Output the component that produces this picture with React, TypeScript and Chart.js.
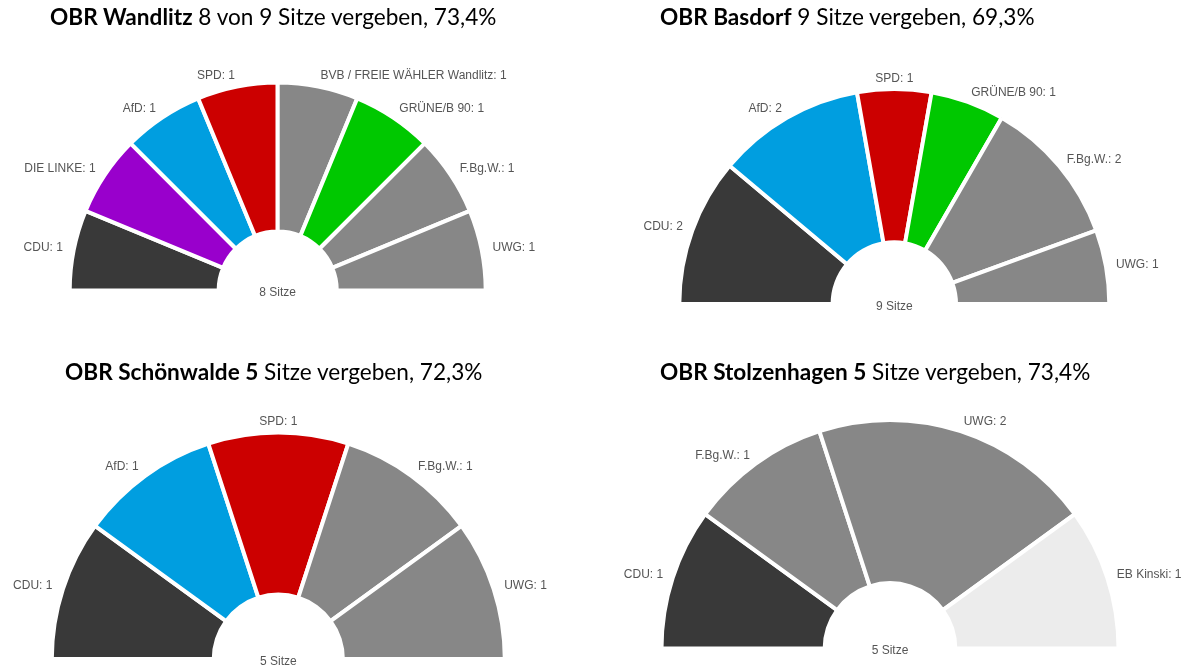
import React, { useEffect, useRef } from "react";
import { Chart, registerables } from "chart.js";

Chart.register(...registerables);

// ---------- DATA ----------
const wandlitzParties = ["CDU", "DIE LINKE", "AfD", "SPD", "BVB / FREIE WÄHLER Wandlitz", "GRÜNE/B 90", "F.Bg.W.", "UWG"];
const wandlitzSeats = [1, 1, 1, 1, 1, 1, 1, 1];
const wandlitzColors = ["#393939", "#9900cc", "#009ee0", "#cc0000", "#878787", "#00c800", "#878787", "#878787"];
const wandlitzTitleBold = "OBR Wandlitz";
const wandlitzTitleRest = " 8 von 9 Sitze vergeben, 73,4%";

const basdorfParties = ["CDU", "AfD", "SPD", "GRÜNE/B 90", "F.Bg.W.", "UWG"];
const basdorfSeats = [2, 2, 1, 1, 2, 1];
const basdorfColors = ["#393939", "#009ee0", "#cc0000", "#00c800", "#878787", "#878787"];
const basdorfTitleBold = "OBR Basdorf";
const basdorfTitleRest = " 9 Sitze vergeben, 69,3%";

const schoenwaldeParties = ["CDU", "AfD", "SPD", "F.Bg.W.", "UWG"];
const schoenwaldeSeats = [1, 1, 1, 1, 1];
const schoenwaldeColors = ["#393939", "#009ee0", "#cc0000", "#878787", "#878787"];
const schoenwaldeTitleBold = "OBR Schönwalde 5";
const schoenwaldeTitleRest = " Sitze vergeben, 72,3%";

const stolzenhagenParties = ["CDU", "F.Bg.W.", "UWG", "EB Kinski"];
const stolzenhagenSeats = [1, 1, 2, 1];
const stolzenhagenColors = ["#393939", "#878787", "#878787", "#ececec"];
const stolzenhagenTitleBold = "OBR Stolzenhagen 5";
const stolzenhagenTitleRest = " Sitze vergeben, 73,4%";

const seatsWord = "Sitze";

// ---------- LAYOUT ----------
type Spec = {
  parties: string[];
  seats: number[];
  colors: string[];
  titleBold: string;
  titleRest: string;
  left: number;
  top: number;
  width: number;
  height: number;
  cx: number;
  cy: number;
  radius: number;
  cutout: string;
  labelGap: number;
  titleLeft: number;
  titleTop: number;
};

const specs: Spec[] = [
  {
    parties: wandlitzParties, seats: wandlitzSeats, colors: wandlitzColors,
    titleBold: wandlitzTitleBold, titleRest: wandlitzTitleRest,
    left: 0, top: 0, width: 600, height: 335,
    cx: 277.7, cy: 290.5, radius: 208, cutout: "28.4%", labelGap: 11,
    titleLeft: 50, titleTop: 5,
  },
  {
    parties: basdorfParties, seats: basdorfSeats, colors: basdorfColors,
    titleBold: basdorfTitleBold, titleRest: basdorfTitleRest,
    left: 600, top: 0, width: 601, height: 335,
    cx: 294.3, cy: 304, radius: 215, cutout: "28.7%", labelGap: 10,
    titleLeft: 660, titleTop: 5,
  },
  {
    parties: schoenwaldeParties, seats: schoenwaldeSeats, colors: schoenwaldeColors,
    titleBold: schoenwaldeTitleBold, titleRest: schoenwaldeTitleRest,
    left: 0, top: 335, width: 600, height: 335,
    cx: 278.3, cy: 324, radius: 226.5, cutout: "28.5%", labelGap: 11,
    titleLeft: 65, titleTop: 360,
  },
  {
    parties: stolzenhagenParties, seats: stolzenhagenSeats, colors: stolzenhagenColors,
    titleBold: stolzenhagenTitleBold, titleRest: stolzenhagenTitleRest,
    left: 600, top: 335, width: 601, height: 335,
    cx: 290, cy: 313.5, radius: 228.5, cutout: "28.6%", labelGap: 10,
    titleLeft: 660, titleTop: 360,
  },
];

const labelFont = "12px 'Liberation Sans', Arial, sans-serif";
const labelColor = "#555555";

const seatLabelsPlugin = {
  id: "seatLabels",
  afterDatasetsDraw(chart: any, _args: any, opts: any) {
    const meta = chart.getDatasetMeta(0);
    const labels = chart.data.labels as string[];
    const values = chart.data.datasets[0].data as number[];
    const ctx = chart.ctx as CanvasRenderingContext2D;
    ctx.save();
    ctx.font = labelFont;
    ctx.fillStyle = labelColor;
    ctx.textBaseline = "middle";
    let cx = 0;
    let cy = 0;
    let total = 0;
    meta.data.forEach((arc: any, i: number) => {
      const p = arc.getProps(["x", "y", "startAngle", "endAngle", "outerRadius"], true);
      cx = p.x;
      cy = p.y;
      total += values[i];
      const mid = (p.startAngle + p.endAngle) / 2;
      const r = p.outerRadius + (opts.gap ?? 10);
      const px = p.x + Math.cos(mid) * r;
      const py = p.y + Math.sin(mid) * r;
      const c = Math.cos(mid);
      ctx.textAlign = Math.abs(c) < 0.02 ? "center" : c < 0 ? "right" : "left";
      ctx.fillText(`${labels[i]}: ${values[i]}`, px, py);
    });
    ctx.textAlign = "center";
    ctx.fillText(`${total} ${seatsWord}`, cx, cy + 2.5);
    ctx.restore();
  },
};

function Parliament({ spec }: { spec: Spec }) {
  const ref = useRef<HTMLCanvasElement | null>(null);
  useEffect(() => {
    if (!ref.current) return;
    const s = spec;
    const chart = new Chart(ref.current, {
      type: "doughnut",
      data: {
        labels: s.parties,
        datasets: [
          {
            data: s.seats,
            backgroundColor: s.colors,
            borderColor: "#ffffff",
            borderWidth: 4,
            hoverOffset: 0,
          },
        ],
      },
      options: {
        responsive: false,
        animation: false,
        rotation: -90,
        circumference: 180,
        cutout: s.cutout,
        radius: s.radius,
        events: [],
        layout: {
          padding: {
            left: s.cx - s.radius,
            right: s.width - s.cx - s.radius,
            top: s.cy - s.radius,
            bottom: s.height - s.cy,
          },
        },
        plugins: {
          legend: { display: false },
          tooltip: { enabled: false },
          title: { display: false },
          seatLabels: { gap: s.labelGap },
        } as any,
      },
      plugins: [seatLabelsPlugin],
    });
    return () => chart.destroy();
  }, [spec]);
  return (
    <canvas
      ref={ref}
      width={spec.width}
      height={spec.height}
      style={{ position: "absolute", left: spec.left, top: spec.top, width: spec.width, height: spec.height }}
    />
  );
}

export default function App() {
  useEffect(() => {
    document.body.style.margin = "0";
    document.body.style.background = "#ffffff";
  }, []);
  return (
    <div style={{ position: "relative", width: 1201, height: 670, background: "#ffffff", overflow: "hidden" }}>
      {specs.map((s, i) => (
        <Parliament key={i} spec={s} />
      ))}
      {specs.map((s, i) => (
        <div
          key={"t" + i}
          style={{
            position: "absolute",
            left: s.titleLeft,
            top: s.titleTop,
            fontFamily: "Lato, 'Open Sans', sans-serif",
            fontSize: 22.6,
            lineHeight: "24px",
            color: "#000000",
            whiteSpace: "nowrap",
          }}
        >
          <span style={{ fontWeight: 700 }}>{s.titleBold}</span>
          <span style={{ fontWeight: 400 }}>{s.titleRest}</span>
        </div>
      ))}
    </div>
  );
}
